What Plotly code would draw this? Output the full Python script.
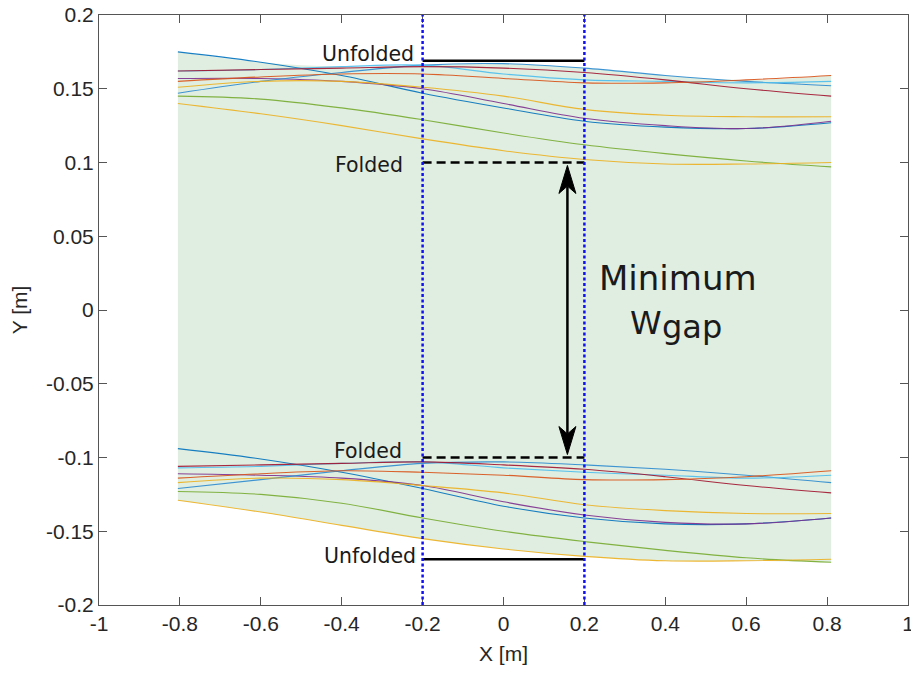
import numpy as np
import plotly.graph_objects as go

# ---------------- data ----------------
x_pts = [-0.805, -0.6, -0.4, -0.2, 0.0, 0.2, 0.4, 0.6, 0.81]

upper_curves = {
    "blue_desc":  [0.175, 0.168, 0.159, 0.147, 0.137, 0.128, 0.124, 0.123, 0.127],
    "purple":     [0.157, 0.157, 0.155, 0.150, 0.140, 0.130, 0.125, 0.123, 0.128],
    "blue_rise":  [0.147, 0.155, 0.161, 0.166, 0.167, 0.164, 0.159, 0.155, 0.152],
    "cyan":       [0.162, 0.163, 0.165, 0.166, 0.160, 0.156, 0.155, 0.154, 0.155],
    "red":        [0.162, 0.163, 0.164, 0.165, 0.164, 0.161, 0.156, 0.150, 0.145],
    "orange":     [0.155, 0.158, 0.160, 0.160, 0.157, 0.154, 0.154, 0.156, 0.159],
    "yellow":     [0.151, 0.155, 0.155, 0.151, 0.145, 0.136, 0.132, 0.131, 0.131],
    "green":      [0.145, 0.143, 0.137, 0.129, 0.120, 0.112, 0.106, 0.101, 0.097],
    "yellow2":    [0.140, 0.133, 0.125, 0.116, 0.108, 0.102, 0.099, 0.099, 0.100],
}

lower_curves = {
    "blue_desc":  [-0.094, -0.101, -0.110, -0.121, -0.133, -0.141, -0.145, -0.145, -0.141],
    "purple":     [-0.111, -0.112, -0.114, -0.119, -0.130, -0.139, -0.144, -0.145, -0.141],
    "blue_rise":  [-0.121, -0.115, -0.109, -0.104, -0.103, -0.105, -0.108, -0.112, -0.117],
    "cyan":       [-0.107, -0.106, -0.104, -0.103, -0.107, -0.110, -0.112, -0.114, -0.112],
    "red":        [-0.106, -0.105, -0.104, -0.103, -0.105, -0.108, -0.113, -0.119, -0.124],
    "orange":     [-0.114, -0.111, -0.109, -0.110, -0.112, -0.115, -0.115, -0.113, -0.109],
    "yellow":     [-0.117, -0.114, -0.115, -0.119, -0.124, -0.132, -0.136, -0.138, -0.138],
    "green":      [-0.123, -0.125, -0.131, -0.141, -0.150, -0.157, -0.163, -0.168, -0.171],
    "yellow2":    [-0.129, -0.137, -0.146, -0.155, -0.162, -0.167, -0.170, -0.170, -0.169],
}

curve_colors = {
    "blue_desc": "#0072BD", "purple": "#7E2F8E", "blue_rise": "#2C8BD0",
    "cyan": "#4DBEEE", "red": "#A2142F", "orange": "#D95319",
    "yellow": "#EDB120", "green": "#77AC30", "yellow2": "#EDB120",
}

gap_x = [-0.2, 0.2]          # measurement window
unfolded_y = 0.169
folded_y = 0.1
arrow_x = 0.158
arrow_top = 0.098
arrow_bottom = -0.098

x_ticks = [-1, -0.8, -0.6, -0.4, -0.2, 0, 0.2, 0.4, 0.6, 0.8, 1]
x_ticktext = ["-1", "-0.8", "-0.6", "-0.4", "-0.2", "0", "0.2", "0.4", "0.6", "0.8", "1"]
y_ticks = [-0.2, -0.15, -0.1, -0.05, 0, 0.05, 0.1, 0.15, 0.2]
y_ticktext = ["-0.2", "-0.15", "-0.1", "-0.05", "0", "0.05", "0.1", "0.15", "0.2"]

# ---------------- figure ----------------
fig = go.Figure()

top_env = np.max(np.array(list(upper_curves.values())), axis=0)
bot_env = np.min(np.array(list(lower_curves.values())), axis=0)

fig.add_trace(go.Scatter(x=x_pts, y=top_env, mode="lines", line=dict(width=0, shape="spline"),
                         showlegend=False, hoverinfo="skip"))
fig.add_trace(go.Scatter(x=x_pts, y=bot_env, mode="lines", line=dict(width=0, shape="spline"),
                         fill="tonexty", fillcolor="#e0eee1", showlegend=False, hoverinfo="skip"))

for group in (upper_curves, lower_curves):
    for name, vals in group.items():
        fig.add_trace(go.Scatter(x=x_pts, y=vals, mode="lines",
                                 line=dict(color=curve_colors[name], width=1.1, shape="spline"),
                                 opacity=0.9, showlegend=False, hoverinfo="skip"))

# unfolded (solid) and folded (dashed) reference lines
for sgn in (1, -1):
    fig.add_trace(go.Scatter(x=gap_x, y=[sgn * unfolded_y] * 2, mode="lines",
                             line=dict(color="black", width=2.5), showlegend=False))
    fig.add_trace(go.Scatter(x=gap_x, y=[sgn * folded_y] * 2, mode="lines",
                             line=dict(color="black", width=2.5, dash="9px,5px"), showlegend=False))

# vertical dotted window lines
for gx in gap_x:
    fig.add_trace(go.Scatter(x=[gx, gx], y=[-0.2, 0.2], mode="lines",
                             line=dict(color="#1010F0", width=2.5, dash="3px,2.5px"), showlegend=False))

# double-headed arrow: shaft + two notched heads (sizes in data units)
head_len = 0.019
head_half = 0.021
notch = 0.014
fig.add_shape(type="line", x0=arrow_x, x1=arrow_x, y0=arrow_bottom + notch, y1=arrow_top - notch,
              xref="x", yref="y", line=dict(color="black", width=2.5))
for tip, d in ((arrow_top, -1), (arrow_bottom, 1)):
    path = (f"M {arrow_x},{tip} L {arrow_x + head_half},{tip + d * head_len} "
            f"L {arrow_x},{tip + d * notch} L {arrow_x - head_half},{tip + d * head_len} Z")
    fig.add_shape(type="path", path=path, xref="x", yref="y",
                  fillcolor="black", line=dict(color="black", width=1))

lab_font = dict(family="DejaVu Sans", size=20.5, color="#1a1a1a")
fig.add_annotation(x=-0.217, y=0.1735, text="Unfolded", showarrow=False,
                   xanchor="right", yanchor="middle", font=lab_font)
fig.add_annotation(x=-0.244, y=0.0985, text="Folded", showarrow=False,
                   xanchor="right", yanchor="middle", font=lab_font)
fig.add_annotation(x=-0.247, y=-0.0956, text="Folded", showarrow=False,
                   xanchor="right", yanchor="middle", font=lab_font)
fig.add_annotation(x=-0.212, y=-0.1668, text="Unfolded", showarrow=False,
                   xanchor="right", yanchor="middle", font=lab_font)

big_font = dict(family="DejaVu Sans", size=34, color="#1a1a1a")
fig.add_annotation(x=0.432, y=0.0215, text="Minimum", showarrow=False,
                   xanchor="center", yanchor="middle", font=big_font)
fig.add_annotation(x=0.3926, y=-0.0088, xshift=2, text="W", showarrow=False,
                   xanchor="right", yanchor="middle", font=dict(family="DejaVu Sans", size=32, color="#1a1a1a"))
fig.add_annotation(x=0.3926, y=-0.0088, xshift=-2, yshift=-4, text="gap", showarrow=False,
                   xanchor="left", yanchor="middle", font=dict(family="DejaVu Sans", size=32, color="#1a1a1a"))

tick_font = dict(family="Arial, Helvetica, sans-serif", size=21, color="#262626")
title_font = dict(family="Arial, Helvetica, sans-serif", size=21, color="#262626")

axis_common = dict(showgrid=False, zeroline=False, showline=True, linecolor="#555555", linewidth=1,
                   mirror="ticks", ticks="inside", ticklen=8, tickcolor="#555555", automargin=False,
                   layer="below traces", ticklabeloverflow="allow", tickfont=tick_font)

fig.update_xaxes(range=[-1, 1], tickvals=x_ticks, ticktext=x_ticktext,
                 title=dict(text="X [m]", font=title_font, standoff=12), **axis_common)
fig.update_yaxes(range=[-0.2, 0.2], tickvals=y_ticks, ticktext=y_ticktext,
                 title=dict(text="Y [m]", font=title_font, standoff=12), **axis_common)

fig.update_layout(width=911, height=677, margin=dict(l=99, r=3, t=15, b=72),
                  plot_bgcolor="white", paper_bgcolor="white", showlegend=False)

fig.write_html("out.html", config={"displayModeBar": False},
               post_script="document.body.style.margin='0';document.body.style.overflow='hidden';")
